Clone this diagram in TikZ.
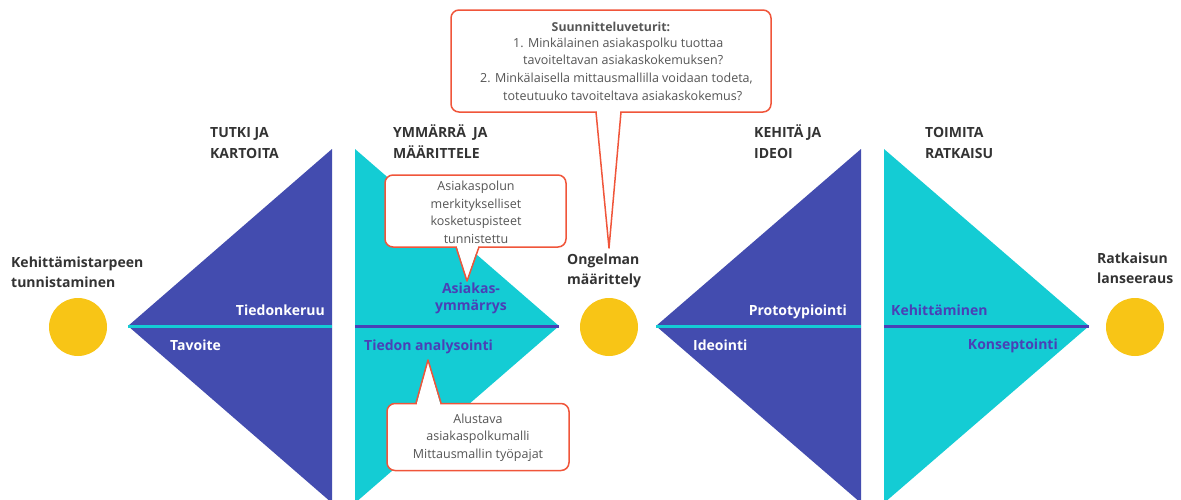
\documentclass[tikz,border=0pt]{standalone}
\usepackage{fontspec}
\setmainfont{Open Sans}
\definecolor{navy}{HTML}{434CAF}
\definecolor{teal}{HTML}{14CCD4}
\definecolor{sun}{HTML}{F8C516}
\definecolor{ink}{HTML}{333333}
\definecolor{grayt}{HTML}{555555}
\definecolor{purp}{HTML}{4A40B6}
\definecolor{coral}{HTML}{F0553A}
\begin{document}
\begin{tikzpicture}[x=1pt,y=-1pt,
  dot/.style={circle,fill=sun,minimum size=58pt,inner sep=0pt},
  head/.style={font=\fontsize{14}{21}\selectfont\bfseries,text=ink,inner sep=0pt,align=left},
  wlab/.style={font=\fontsize{14}{20}\selectfont\bfseries,text=white,inner sep=0pt},
  plab/.style={font=\fontsize{14}{20}\selectfont\bfseries,text=purp,inner sep=0pt},
  ctext/.style={font=\fontsize{12.5}{17.5}\selectfont,text=grayt,inner sep=0pt},
  callbox/.style={draw=coral,line width=1.5pt,fill=white,rounded corners=8pt,inner sep=0pt},
  callline/.style={draw=coral,line width=1.5pt,line join=round},
]
\useasboundingbox (0,0) rectangle (1181,499);
\clip (0,0) rectangle (1181,499);
% triangles
\fill[navy] (128,326) -- (332,149) -- (332,503) -- cycle;
\fill[teal] (355,149) -- (559,326) -- (355,503) -- cycle;
\fill[navy] (656,326) -- (861,149) -- (861,503) -- cycle;
\fill[teal] (884,149) -- (1089,326) -- (884,503) -- cycle;
% axis lines
\coordinate (a1) at (128,326); \coordinate (b1) at (332,326);
\coordinate (a2) at (355,326); \coordinate (b2) at (559,326);
\coordinate (a3) at (656,326); \coordinate (b3) at (861,326);
\coordinate (a4) at (884,326); \coordinate (b4) at (1089,326);
\draw[teal,line width=3pt] (a1) -- (b1);
\draw[purp,line width=3pt] (a2) -- (b2);
\draw[teal,line width=3pt] (a3) -- (b3);
\draw[purp,line width=3pt] (a4) -- (b4);
% circles
\node[dot] (c1) at (78,327) {};
\node[dot] (c2) at (609,327) {};
\node[dot] (c3) at (1135,327) {};
% circle labels (anchor = baseline of last line)
\node[head,anchor=base west] (l1) at (11,287) {Kehittämistarpeen\\[-1pt]tunnistaminen};
\node[head,anchor=base west] (l2) at (567,284) {Ongelman\\[-1pt]määrittely};
\node[head,anchor=base west] (l3) at (1097,283) {Ratkaisun\\[-1pt]lanseeraus};
% headings
\node[head,anchor=base west] (h1) at (210,158) {TUTKI JA\\KARTOITA};
\node[head,anchor=base west] (h2) at (393,158) {YMMÄRRÄ\enspace JA\\MÄÄRITTELE};
\node[head,anchor=base west] (h3) at (754,158) {KEHITÄ JA\\IDEOI};
\node[head,anchor=base west] (h4) at (925,158) {TOIMITA\\RATKAISU};
% inner labels
\node[wlab,anchor=base east] (t1) at (325,315) {Tiedonkeruu};
\node[wlab,anchor=base west] (t2) at (170,350) {Tavoite};
\node[plab,anchor=base,align=center] (t3) at (471,310) {Asiakas-\\[-3pt]ymmärrys};
\node[plab,anchor=base west] (t4) at (364,350) {Tiedon analysointi};
\node[wlab,anchor=base east] (t5) at (847,315) {Prototypiointi};
\node[wlab,anchor=base west] (t6) at (693,350) {Ideointi};
\node[plab,anchor=base west] (t7) at (891,315) {Kehittäminen};
\node[plab,anchor=base east] (t8) at (1058,349) {Konseptointi};
% callout 1
\node[callbox,minimum width=320pt,minimum height=102pt] (cb1) at (611,61) {};
\fill[white] (597,109) -- (597,112) -- (609,247) -- (620,112) -- (620,109) -- cycle;
\draw[callline] (596,112) -- (609,248) -- (621,112);
\node[ctext,font=\fontsize{12.3}{17.5}\selectfont\bfseries,anchor=base] (q0) at (611,31) {Suunnitteluveturit:};
\node[ctext,anchor=base west] (q1) at (513,47) {1. Minkälainen asiakaspolku tuottaa};
\node[ctext,anchor=base west] (q2) at (523,64.5) {tavoiteltavan asiakaskokemuksen?};
\node[ctext,anchor=base west] (q3) at (480,82) {2. Minkälaisella mittausmallilla voidaan todeta,};
\node[ctext,anchor=base west] (q4) at (503,100) {toteutuuko tavoiteltava asiakaskokemus?};
% callout 2
\node[callbox,minimum width=181pt,minimum height=72pt] (cb2) at (475.5,211) {};
\fill[white] (457,244) -- (457,247) -- (467,280) -- (478,247) -- (478,244) -- cycle;
\draw[callline] (456,247) -- (467,281) -- (479,247);
\node[ctext,anchor=base,align=center] (r1) at (476,243) {Asiakaspolun\\merkitykselliset\\kosketuspisteet\\tunnistettu};
% callout 3
\node[callbox,minimum width=182pt,minimum height=67pt] (cb3) at (478,437) {};
\fill[white] (417,406) -- (417,403) -- (428,361) -- (440,403) -- (440,406) -- cycle;
\draw[callline] (416,403) -- (428,360) -- (441,403);
\node[ctext,anchor=base,align=center] (s1) at (478,458) {Alustava\\asiakaspolkumalli\\Mittausmallin työpajat};
\end{tikzpicture}
\end{document}
